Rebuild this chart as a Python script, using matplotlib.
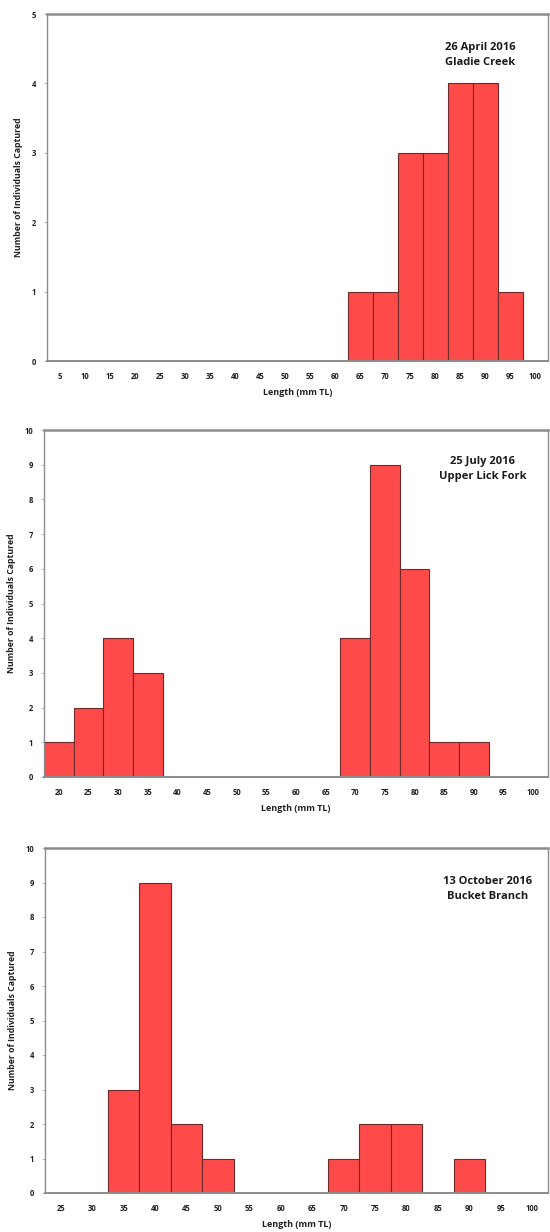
import matplotlib
matplotlib.use("Agg")
import matplotlib.pyplot as plt

# ---- data ----
lengths_apr = [5, 10, 15, 20, 25, 30, 35, 40, 45, 50, 55, 60, 65, 70, 75, 80, 85, 90, 95, 100]
counts_apr = [0, 0, 0, 0, 0, 0, 0, 0, 0, 0, 0, 0, 1, 1, 3, 3, 4, 4, 1, 0]

lengths_jul = [20, 25, 30, 35, 40, 45, 50, 55, 60, 65, 70, 75, 80, 85, 90, 95, 100]
counts_jul = [1, 2, 4, 3, 0, 0, 0, 0, 0, 0, 4, 9, 6, 1, 1, 0, 0]

lengths_oct = [25, 30, 35, 40, 45, 50, 55, 60, 65, 70, 75, 80, 85, 90, 95, 100]
counts_oct = [0, 0, 3, 9, 2, 1, 0, 0, 0, 1, 2, 2, 0, 1, 0, 0]

titles = ["26 April 2016\nGladie Creek",
          "25 July 2016\nUpper Lick Fork",
          "13 October 2016\nBucket Branch"]
ymaxes = [5, 10, 10]

plt.rcParams['font.family'] = ['Open Sans', 'DejaVu Sans']

fig = plt.figure(figsize=(5.5, 12.32), dpi=100)
fig.patch.set_facecolor('white')

rects = [
    [47/550, 1 - 361/1232, 501/550, 347/1232],
    [44/550, 1 - 777/1232, 504/550, 347/1232],
    [45/550, 1 - 1193/1232, 503/550, 345/1232],
]
text_pos = [(0.865, 0.92), (0.87, 0.925), (0.88, 0.92)]

datasets = [(lengths_apr, counts_apr), (lengths_jul, counts_jul), (lengths_oct, counts_oct)]

for i, ((cats, vals), title, ymax, rect) in enumerate(zip(datasets, titles, ymaxes, rects)):
    ax = fig.add_axes(rect)
    x = list(range(len(cats)))
    ax.bar(x, vals, width=1.0, color='#FF4A4A', edgecolor='#6E2A2A', linewidth=0.8, zorder=2)
    ax.set_xlim(-0.5, len(cats) - 0.5)
    ax.set_ylim(0, ymax)
    ax.set_xticks(x)
    ax.set_xticklabels([str(c) for c in cats], fontsize=5.5, fontweight='bold', color='#222222')
    ax.set_yticks(range(0, ymax + 1))
    ax.set_yticklabels([str(v) for v in range(0, ymax + 1)], fontsize=5.5, fontweight='bold', color='#222222')
    ax.tick_params(axis='x', length=0, pad=8)
    ax.tick_params(axis='y', length=2, width=0.5, color='#999999', pad=6)
    for side, sp in ax.spines.items():
        sp.set_color('#8C8C8C')
        sp.set_linewidth(1.0)
    ax.spines['top'].set_linewidth(1.8)
    ax.spines['bottom'].set_linewidth(1.4)
    ax.set_xlabel("Length (mm TL)", fontsize=6.5, fontweight='bold', color='#222222', labelpad=5)
    ax.set_ylabel("Number of Individuals Captured", fontsize=6.3, fontweight='bold', color='#222222', labelpad=6)
    ax.text(text_pos[i][0], text_pos[i][1], title, transform=ax.transAxes,
            ha='center', va='top', fontsize=8, fontweight='bold', color='#1a1a1a',
            linespacing=1.5)

fig.savefig("out.png", dpi=100, facecolor='white')
